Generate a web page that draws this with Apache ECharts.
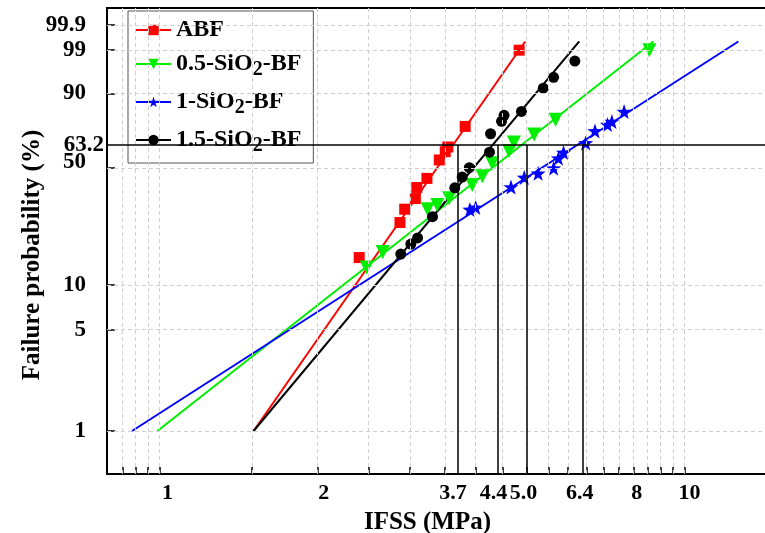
<!DOCTYPE html>
<html>
<head>
<meta charset="utf-8">
<script src="https://cdn.jsdelivr.net/npm/echarts@6/dist/echarts.min.js"></script>
<style>
  html, body { margin: 0; padding: 0; background: #fff; }
  #chart { width: 765px; height: 533px; }
</style>
</head>
<body>
<div id="chart"></div>
<script>
// measured points: IFSS (MPa) and failure probability (%)
const ABF_X = [2.40, 2.87, 2.93, 3.07, 3.09, 3.23, 3.41, 3.50, 3.54, 3.82, 4.84];
const ABF_F = [15.1, 25.0, 30.0, 34.5, 39.7, 44.3, 54.5, 59.3, 62.1, 74.1, 99.0];

const SIO2_05_X = [2.48, 2.66, 3.24, 3.38, 3.56, 3.94, 4.12, 4.30, 4.63, 4.73, 5.17, 5.68, 8.57];
const SIO2_05_F = [13.0, 16.4, 30.0, 31.7, 34.6, 40.9, 45.4, 52.6, 59.7, 64.8, 69.5, 77.8, 99.0];

const SIO2_1_X = [3.90, 4.00, 4.67, 4.95, 5.26, 5.63, 5.75, 5.88, 6.48, 6.75, 7.13, 7.27, 7.67];
const SIO2_1_F = [29.9, 30.7, 39.9, 44.8, 47.0, 49.8, 55.5, 58.9, 64.5, 71.5, 75.1, 76.8, 82.0];

const SIO2_15_X = [2.88, 3.01, 3.10, 3.31, 3.65, 3.77, 3.89, 4.25, 4.27, 4.48, 4.53, 4.89, 5.38, 5.63, 6.18];
const SIO2_15_F = [15.9, 18.4, 20.1, 27.1, 39.5, 45.0, 50.1, 59.0, 69.9, 76.9, 80.1, 82.1, 91.8, 94.9, 97.9];

// Weibull fit lines (end points)
const FIT_F = [1, 99.5];
const ABF_FIT_X = [1.51, 4.97];
const SIO2_05_FIT_X = [0.99, 8.72];
const SIO2_1_FIT_X = [0.886, 12.66];
const SIO2_15_FIT_X = [1.51, 6.30];

// characteristic strength at 63.2 %
const CHAR_F = 63.2;
const CHAR_X = [3.7, 4.4, 5.0, 6.4];

const NAMES = ['ABF', '0.5-SiO2-BF', '1-SiO2-BF', '1.5-SiO2-BF'];
const COLORS = ['#ff0000', '#00ee00', '#0000ff', '#000000'];

const X_LABELS = ['1', '2', '3.7', '4.4', '5.0', '6.4', '8', '10'];
const X_TICKS = [0.85, 0.9, 0.95, 1, 1.5, 2, 2.5, 3, 3.5, 4, 4.5, 5, 5.5, 6, 6.5, 7, 7.5, 8, 8.5, 9, 9.5, 10];
const Y_LABELS = ['1', '5', '10', '50', '63.2', '90', '99', '99.9'];
const Y_TICKS = [1, 5, 10, 50, 90, 99, 99.9];

const FONT = '"Liberation Serif", "Times New Roman", serif';

const lx = (v) => Math.log10(v);
const wy = (f) => Math.log(-Math.log(1 - f / 100));
const pts = (xs, fs) => xs.map((x, i) => [lx(x), wy(fs[i])]);

const xMin = -0.1002, xMax = 1.1665;
const yMin = -5.292, yMax = 2.206;
const y632 = wy(CHAR_F);

const star = 'path://M0,-10 L2.35,-3.24 9.51,-3.09 3.8,1.24 5.88,8.09 0,4 -5.88,8.09 -3.8,1.24 -9.51,-3.09 -2.35,-3.24Z';
const SYMBOLS = ['rect', 'triangle', star, 'circle'];
const SIZES = [11, 14, 15, 11];
const ROT = [0, 180, 0, 0];

const fits = [ABF_FIT_X, SIO2_05_FIT_X, SIO2_1_FIT_X, SIO2_15_FIT_X];
const groups = [[ABF_X, ABF_F], [SIO2_05_X, SIO2_05_F], [SIO2_1_X, SIO2_1_F], [SIO2_15_X, SIO2_15_F]];

const xLabelMap = {};
X_LABELS.forEach((s, i) => { xLabelMap[lx(parseFloat(s)).toFixed(5)] = i; });
const yLabelMap = {};
Y_LABELS.forEach((s) => { yLabelMap[wy(parseFloat(s)).toFixed(5)] = s; });

// small label nudges like the original figure
const X_PAD = [[0, 0, 0, 16], [0, 0, 0, 12], [0, 10, 0, 0], [0, 8, 0, 0], [0, 6, 0, 0], [0, 6, 0, 0], [0, 0, 0, 6], [0, 0, 0, 10]];
const xRich = {};
X_PAD.forEach((p, i) => {
  xRich['x' + i] = { fontFamily: FONT, fontSize: 22, fontWeight: 'bold', color: '#000', padding: p };
});

const series = [];

// dashed grid
series.push({
  type: 'line',
  data: [],
  z: 0,
  markLine: {
    silent: true,
    symbol: ['none', 'none'],
    label: { show: false },
    lineStyle: { color: '#cfcfcf', width: 1, type: [4, 3] },
    data: [
      ...X_TICKS.map((v) => [{ coord: [lx(v), yMin] }, { coord: [lx(v), yMax] }]),
      ...Y_TICKS.map((f) => [{ coord: [xMin, wy(f)] }, { coord: [xMax, wy(f)] }]),
    ],
  },
});

NAMES.forEach((name, i) => {
  series.push({
    name,
    type: 'line',
    data: pts(fits[i], FIT_F),
    symbol: SYMBOLS[i],
    symbolSize: SIZES[i],
    symbolRotate: ROT[i],
    showSymbol: false,
    lineStyle: { color: COLORS[i], width: 2 },
    itemStyle: { color: COLORS[i] },
    z: 3,
    markLine: i === 0 ? {
      silent: true,
      symbol: ['none', 'none'],
      label: { show: false },
      lineStyle: { color: '#000', width: 1.5, type: 'solid' },
      data: [
        [{ coord: [xMin, y632] }, { coord: [xMax, y632] }],
        ...CHAR_X.map((v) => [{ coord: [lx(v), y632] }, { coord: [lx(v), yMin] }]),
      ],
    } : undefined,
  });
});
NAMES.forEach((name, i) => {
  series.push({
    name,
    type: 'scatter',
    data: pts(groups[i][0], groups[i][1]),
    symbol: SYMBOLS[i],
    symbolSize: SIZES[i],
    symbolRotate: ROT[i],
    itemStyle: { color: COLORS[i], opacity: 1 },
    z: 4,
  });
});

const chart = echarts.init(document.getElementById('chart'), null, { renderer: 'canvas' });
chart.setOption({
  animation: false,
  backgroundColor: '#fff',
  grid: {
    left: 107, top: 8, width: 665, height: 466,
    outerBoundsMode: 'none', containLabel: false,
    show: true, borderColor: '#000', borderWidth: 2, backgroundColor: 'transparent',
  },
  legend: {
    orient: 'vertical',
    left: 128,
    top: 11,
    padding: [7, 12, 7, 7],
    itemGap: 10,
    itemWidth: 35,
    itemHeight: 13,
    borderColor: '#555',
    borderWidth: 1,
    backgroundColor: '#fff',
    z: 1,
    data: NAMES,
    formatter: (n) => n.replace('SiO2', 'SiO{sub|2}'),
    textStyle: {
      fontFamily: FONT, fontSize: 24, fontWeight: 'bold', color: '#000',
      rich: { sub: { fontFamily: FONT, fontSize: 20, fontWeight: 'bold', color: '#000', padding: [12, 0, 0, 0] } },
    },
  },
  xAxis: {
    type: 'value',
    min: xMin,
    max: xMax,
    name: 'IFSS (MPa)',
    nameLocation: 'middle',
    nameGap: 36,
    nameMoveOverlap: false,
    nameTextStyle: { fontFamily: FONT, fontSize: 25, fontWeight: 'bold', color: '#000', padding: [0, 24, 0, 0] },
    axisLine: { show: true, onZero: false, lineStyle: { color: '#000', width: 2 } },
    axisTick: { show: true, inside: true, length: 7, lineStyle: { color: '#000', width: 1.5 }, customValues: X_TICKS.map(lx) },
    axisLabel: {
      margin: 8,
      customValues: X_LABELS.map((s) => lx(parseFloat(s))),
      formatter: (v) => {
        const i = xLabelMap[v.toFixed(5)];
        return i === undefined ? '' : '{x' + i + '|' + X_LABELS[i] + '}';
      },
      rich: xRich,
    },
    splitLine: { show: false },
  },
  yAxis: {
    type: 'value',
    min: yMin,
    max: yMax,
    name: 'Failure probability (%)',
    nameLocation: 'middle',
    nameGap: 62,
    nameMoveOverlap: false,
    nameTextStyle: { fontFamily: FONT, fontSize: 25, fontWeight: 'bold', color: '#000', padding: [0, 28, 0, 0] },
    axisLine: { show: true, onZero: false, lineStyle: { color: '#000', width: 2 } },
    axisTick: { show: true, inside: true, length: 8, lineStyle: { color: '#000', width: 1.5 }, customValues: Y_TICKS.map(wy) },
    axisLabel: {
      margin: 3,
      customValues: Y_LABELS.map((s) => wy(parseFloat(s))),
      formatter: (v) => {
        const s = yLabelMap[v.toFixed(5)] || '';
        if (s === '63.2') return '{c|' + s + '}';
        if (s === '50') return '{f|' + s + '}';
        return '{n|' + s + '}';
      },
      rich: {
        n: { fontFamily: FONT, fontSize: 23, fontWeight: 'bold', color: '#000', padding: [0, 18, 0, 0] },
        f: { fontFamily: FONT, fontSize: 23, fontWeight: 'bold', color: '#000', padding: [0, 18, 12, 0] },
        c: { fontFamily: FONT, fontSize: 23, fontWeight: 'bold', color: '#000' },
      },
    },
    splitLine: { show: false },
  },
  series,
});
</script>
</body>
</html>
